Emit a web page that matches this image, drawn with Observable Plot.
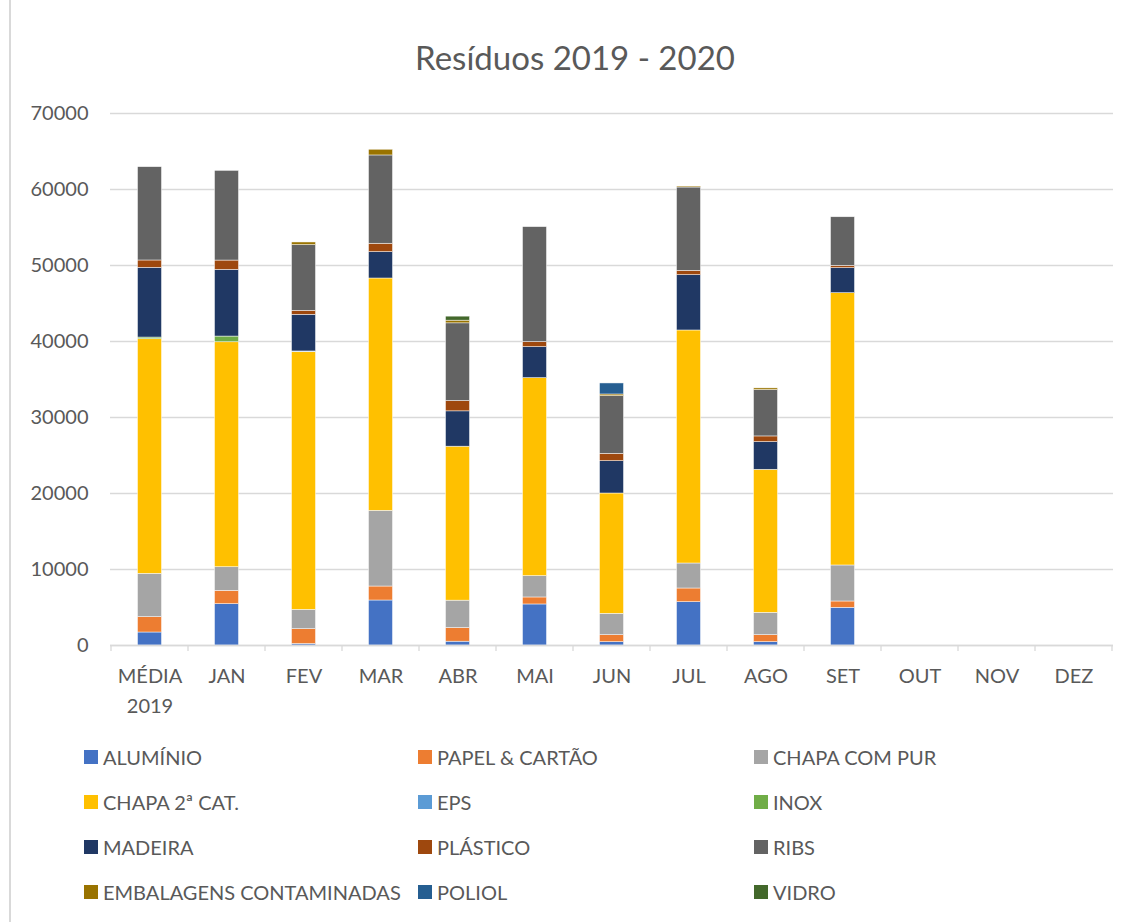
<!DOCTYPE html>
<html>
<head>
<meta charset="utf-8">
<script src="https://cdn.jsdelivr.net/npm/d3@7"></script>
<script src="https://cdn.jsdelivr.net/npm/@observablehq/plot@0.6"></script>
<style>
  html, body { margin: 0; padding: 0; background: #fff; }
  #wrap { position: relative; width: 1138px; height: 922px; overflow: hidden; font-family: Lato, "Open Sans", sans-serif; color: #595959; }
  #frame { position: absolute; left: 9px; top: 0; width: 1200px; height: 940px; border-left: 2px solid #d9d9d9; }
  #title { position: absolute; left: 0; width: 1150px; top: 37px; text-align: center; font-size: 33px; color: #595959; }
  #chart { position: absolute; left: 0; top: 90px; }
  .leg { position: absolute; font-size: 20px; color: #595959; white-space: nowrap; display: flex; align-items: center; }
  .leg i { display: inline-block; width: 14px; height: 14px; margin-right: 5px; }
</style>
</head>
<body>
<div id="wrap">
  <div id="frame"></div>
  <div id="title">Resíduos 2019 - 2020</div>
  <div id="chart"></div>
  <div id="legend"></div>
</div>
<script>
const categories = ["MÉDIA 2019","JAN","FEV","MAR","ABR","MAI","JUN","JUL","AGO","SET","OUT","NOV","DEZ"];
const seriesNames = ["ALUMÍNIO","PAPEL & CARTÃO","CHAPA COM PUR","CHAPA 2ª CAT.","EPS","INOX","MADEIRA","PLÁSTICO","RIBS","EMBALAGENS CONTAMINADAS","POLIOL","VIDRO"];
const seriesColors = ["#4472C4","#ED7D31","#A5A5A5","#FFC000","#5B9BD5","#70AD47","#203864","#9E480E","#636363","#997300","#255E91","#43682B"];
const aluminio   = [1710, 5440,   200, 5920,   500,  5400,   440,  5700,   440,  4960, 0, 0, 0];
const papel      = [2020, 1750,  1950, 1840,  1800,   920,   920,  1800,   920,   830, 0, 0, 0];
const chapaPur   = [5700, 3110,  2540, 9960,  3600,  2810,  2810,  3290,  2940,  4740, 0, 0, 0];
const chapa2     = [30870, 29600, 33900, 30570, 20260, 26050, 15830, 30660, 18820, 35830, 0, 0, 0];
const eps        = [0, 0, 100, 0, 0, 0, 0, 0, 0, 0, 0, 0, 0];
const inox       = [220, 750, 0, 0, 0, 0, 0, 0, 0, 0, 0, 0, 0];
const madeira    = [9170, 8770, 4820, 3470, 4650, 4080, 4250, 7280, 3640, 3290, 0, 0, 0];
const plastico   = [970, 1230, 530, 1100, 1360, 660, 970, 570, 750, 300, 0, 0, 0];
const ribs       = [12280, 11800, 8640, 11620, 10220, 15130, 7590, 10960, 6100, 6400, 0, 0, 0];
const embalagens = [0, 0, 350, 750, 350, 0, 220, 130, 220, 0, 0, 0, 0];
const poliol     = [0, 0, 0, 0, 0, 0, 1450, 0, 0, 0, 0, 0, 0];
const vidro      = [0, 0, 0, 0, 530, 0, 0, 0, 0, 0, 0, 0, 0];
const yTicks = [0, 10000, 20000, 30000, 40000, 50000, 60000, 70000];

const seriesValues = [aluminio, papel, chapaPur, chapa2, eps, inox, madeira, plastico, ribs, embalagens, poliol, vidro];
const data = [];
categories.forEach((c, i) => {
  seriesNames.forEach((s, j) => {
    const v = seriesValues[j][i];
    if (v > 0) data.push({cat: c, serie: s, value: v});
  });
});

const plot = Plot.plot({
  width: 1138,
  height: 640,
  marginLeft: 110,
  marginRight: 25,
  marginTop: 23,
  marginBottom: 85,
  style: {fontFamily: "Lato, 'Open Sans', sans-serif", fontSize: "20px", color: "#595959", background: "transparent"},
  x: {domain: categories, padding: 0},
  y: {domain: [0, 70000]},
  color: {domain: seriesNames, range: seriesColors},
  marks: [
    Plot.gridY(yTicks, {stroke: "#d9d9d9", strokeOpacity: 1, strokeWidth: 1.3}),
    Plot.axisY(yTicks, {label: null, tickSize: 0, tickPadding: 22, tickFormat: d => String(d), fill: "#595959", fontSize: 20}),
    Plot.axisX({label: null, tickSize: 0, tickPadding: 16, lineHeight: 1.5, fill: "#595959", fontSize: 20,
                tickFormat: d => d === "MÉDIA 2019" ? "MÉDIA\n2019" : d}),
    Plot.barY(data, {x: "cat", y: "value", fill: "serie", insetLeft: 26.5, insetRight: 26.5, stroke: "#ffffff", strokeWidth: 0.6, strokeOpacity: 0.8}),
    Plot.ruleY([0], {stroke: "#d9d9d9", strokeWidth: 1.3})
  ]
});
document.getElementById("chart").appendChild(plot);

// category boundary tick marks under the axis, using the x and y scales
const xs = plot.scale("x");
const ys = plot.scale("y");
const svg = d3.select(plot);
const y0 = ys.apply(0);
const bounds = categories.map(c => xs.apply(c)).concat([xs.apply(categories[categories.length - 1]) + xs.step]);
svg.append("g").selectAll("line").data(bounds).join("line")
  .attr("x1", d => d).attr("x2", d => d)
  .attr("y1", y0).attr("y2", y0 + 6)
  .attr("stroke", "#d9d9d9").attr("stroke-width", 1.3);

// legend
const legend = document.getElementById("legend");
const colX = [84, 418, 754];
const rowY = [757, 802, 847, 892];
seriesNames.forEach((s, i) => {
  const el = document.createElement("div");
  el.className = "leg";
  el.style.left = colX[i % 3] + "px";
  el.style.top = (rowY[Math.floor(i / 3)] - 13) + "px";
  el.style.height = "26px";
  el.innerHTML = `<i style="background:${seriesColors[i]}"></i><span>${s}</span>`;
  legend.appendChild(el);
});
</script>
</body>
</html>
